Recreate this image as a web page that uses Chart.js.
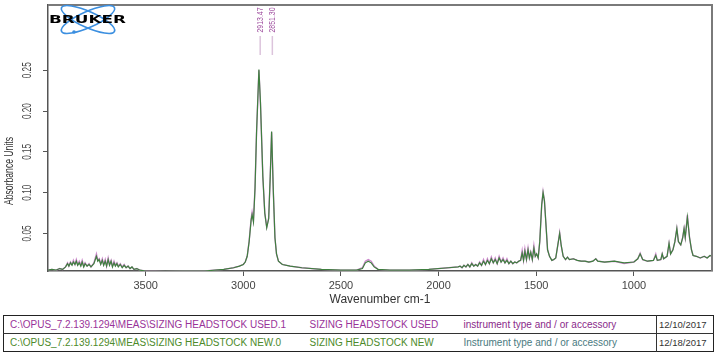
<!DOCTYPE html>
<html>
<head>
<meta charset="utf-8">
<script src="https://cdn.jsdelivr.net/npm/chart.js@4.4.1/dist/chart.umd.min.js"></script>
<style>
  html, body { margin: 0; padding: 0; background: #fff; }
  #wrap { position: relative; width: 723px; height: 356px; }
  #box { position: absolute; left: 0; top: 0; width: 723px; height: 310px; }
  #legend {
    position: absolute; left: 3px; top: 315px; width: 710px; height: 37px;
    border-collapse: collapse; border: 1.5px solid #222;
    font-family: "Liberation Sans", Arial, sans-serif; font-size: 10px;
    table-layout: fixed;
  }
  #legend td { padding: 0 0 0 6px; height: 17px; white-space: nowrap; overflow: hidden; }
  #legend tr + tr td { border-top: 1px solid #333; }
  #legend td.date { border-left: 1px solid #333; padding-left: 2px; color: #333; font-size: 9.5px; }
  tr.used td { color: #993399; }
  tr.used td.acc { color: #8a2a8a; }
  tr.neu td { color: #4d8a2a; }
  tr.neu td.acc { color: #4a7a80; }
</style>
</head>
<body>
<div id="wrap">
  <div id="box"><canvas id="spectrum"></canvas></div>
  <table id="legend">
    <colgroup><col style="width:300px"><col style="width:154px"><col style="width:199px"><col style="width:57px"></colgroup>
    <tr class="used"><td>C:\OPUS_7.2.139.1294\MEAS\SIZING HEADSTOCK USED.1</td><td>SIZING HEADSTOCK USED</td><td class="acc">instrument type and / or accessory</td><td class="date">12/10/2017</td></tr>
    <tr class="neu"><td>C:\OPUS_7.2.139.1294\MEAS\SIZING HEADSTOCK NEW.0</td><td>SIZING HEADSTOCK NEW</td><td class="acc">Instrument type and / or accessory</td><td class="date">12/18/2017</td></tr>
  </table>
</div>
<script>
// wavenumbers (cm-1) shared by both spectra
var wavenumbers = [
  4000, 3980, 3960, 3940, 3925, 3910, 3900, 3893, 3885, 3877, 3870, 3862, 3855, 3848, 3840, 3832,
  3825, 3817, 3810, 3800, 3790, 3780, 3765, 3752, 3745, 3738, 3730, 3722, 3715, 3707, 3700, 3692,
  3685, 3677, 3670, 3662, 3655, 3647, 3640, 3630, 3620, 3610, 3600, 3590, 3580, 3570, 3560, 3545,
  3530, 3500, 3400, 3300, 3200, 3100, 3050, 3020, 3000, 2990, 2980, 2970, 2960, 2955, 2948, 2940,
  2932, 2920, 2912, 2900, 2890, 2880, 2870, 2862, 2855, 2846, 2838, 2830, 2820, 2800, 2760, 2700,
  2600, 2500, 2420, 2390, 2375, 2360, 2345, 2330, 2310, 2250, 2150, 2050, 1950, 1900, 1890, 1880,
  1870, 1860, 1850, 1840, 1830, 1820, 1810, 1800, 1790, 1780, 1770, 1760, 1750, 1740, 1730, 1720,
  1710, 1700, 1690, 1680, 1670, 1660, 1650, 1640, 1630, 1620, 1610, 1600, 1590, 1580, 1572, 1565,
  1558, 1550, 1542, 1535, 1528, 1520, 1512, 1505, 1498, 1490, 1482, 1472, 1465, 1458, 1450, 1442,
  1432, 1420, 1410, 1400, 1390, 1380, 1372, 1362, 1350, 1340, 1330, 1310, 1290, 1270, 1250, 1230,
  1210, 1195, 1185, 1150, 1100, 1050, 1000, 980, 968, 955, 930, 900, 888, 880, 862, 855,
  848, 830, 820, 812, 800, 790, 780, 772, 760, 750, 743, 737, 726, 715, 705, 697,
  680, 660, 640, 625, 610, 600
];

// SIZING HEADSTOCK NEW.0 (green)
var absNew = [
  0.005, 0.006, 0.005, 0.007, 0.006, 0.009, 0.013, 0.010, 0.014, 0.011, 0.015, 0.012, 0.016, 0.011, 0.014, 0.010,
  0.015, 0.009, 0.013, 0.010, 0.012, 0.009, 0.013, 0.022, 0.016, 0.018, 0.012, 0.017, 0.011, 0.016, 0.010, 0.018,
  0.011, 0.016, 0.009, 0.014, 0.010, 0.013, 0.009, 0.012, 0.008, 0.011, 0.008, 0.010, 0.007, 0.009, 0.006, 0.007,
  0.005, 0.004, 0.0035, 0.004, 0.004, 0.006, 0.008, 0.010, 0.012, 0.015, 0.022, 0.040, 0.066, 0.073, 0.064, 0.105,
  0.175, 0.251, 0.210, 0.120, 0.075, 0.057, 0.068, 0.120, 0.175, 0.100, 0.045, 0.025, 0.016, 0.012, 0.010, 0.008,
  0.006, 0.005, 0.005, 0.007, 0.014, 0.016, 0.014, 0.009, 0.006, 0.005, 0.005, 0.006, 0.008, 0.009, 0.010, 0.008,
  0.011, 0.009, 0.012, 0.009, 0.013, 0.010, 0.012, 0.010, 0.014, 0.011, 0.016, 0.012, 0.017, 0.013, 0.019, 0.014,
  0.018, 0.013, 0.020, 0.015, 0.018, 0.014, 0.017, 0.013, 0.016, 0.013, 0.015, 0.014, 0.016, 0.017, 0.026, 0.017,
  0.028, 0.018, 0.030, 0.020, 0.027, 0.018, 0.032, 0.022, 0.025, 0.020, 0.040, 0.085, 0.100, 0.090, 0.060, 0.030,
  0.022, 0.017, 0.018, 0.020, 0.035, 0.050, 0.035, 0.022, 0.018, 0.021, 0.018, 0.019, 0.017, 0.016, 0.016, 0.015,
  0.016, 0.019, 0.016, 0.015, 0.016, 0.014, 0.015, 0.019, 0.025, 0.018, 0.016, 0.017, 0.023, 0.017, 0.018, 0.025,
  0.019, 0.022, 0.038, 0.025, 0.030, 0.040, 0.056, 0.040, 0.036, 0.045, 0.056, 0.045, 0.070, 0.045, 0.030, 0.023,
  0.022, 0.020, 0.022, 0.020, 0.023, 0.022
];

// SIZING HEADSTOCK USED.1 (pink)
var absUsed = [
  0.005, 0.006, 0.005, 0.007, 0.006, 0.009, 0.014, 0.010, 0.015, 0.012, 0.017, 0.012, 0.018, 0.012, 0.016, 0.011,
  0.017, 0.010, 0.014, 0.010, 0.013, 0.009, 0.014, 0.025, 0.017, 0.019, 0.013, 0.019, 0.012, 0.018, 0.010, 0.020,
  0.012, 0.017, 0.010, 0.016, 0.011, 0.014, 0.010, 0.013, 0.009, 0.012, 0.008, 0.010, 0.007, 0.009, 0.006, 0.007,
  0.005, 0.004, 0.0035, 0.004, 0.004, 0.006, 0.008, 0.010, 0.012, 0.015, 0.022, 0.041, 0.068, 0.076, 0.066, 0.106,
  0.175, 0.250, 0.209, 0.120, 0.075, 0.058, 0.069, 0.120, 0.174, 0.100, 0.045, 0.025, 0.016, 0.012, 0.010, 0.008,
  0.006, 0.005, 0.005, 0.008, 0.016, 0.018, 0.016, 0.010, 0.006, 0.005, 0.005, 0.006, 0.008, 0.009, 0.010, 0.008,
  0.011, 0.009, 0.012, 0.009, 0.014, 0.010, 0.012, 0.010, 0.015, 0.011, 0.018, 0.012, 0.019, 0.013, 0.021, 0.014,
  0.020, 0.013, 0.022, 0.015, 0.020, 0.014, 0.019, 0.013, 0.016, 0.013, 0.015, 0.014, 0.016, 0.017, 0.029, 0.017,
  0.031, 0.018, 0.032, 0.020, 0.027, 0.018, 0.035, 0.022, 0.025, 0.020, 0.040, 0.085, 0.101, 0.090, 0.060, 0.030,
  0.022, 0.017, 0.018, 0.020, 0.035, 0.051, 0.035, 0.022, 0.018, 0.021, 0.018, 0.019, 0.017, 0.016, 0.016, 0.015,
  0.016, 0.019, 0.016, 0.015, 0.016, 0.013, 0.015, 0.019, 0.026, 0.018, 0.016, 0.017, 0.025, 0.017, 0.018, 0.025,
  0.019, 0.022, 0.038, 0.025, 0.030, 0.040, 0.056, 0.040, 0.036, 0.045, 0.056, 0.045, 0.073, 0.045, 0.030, 0.023,
  0.022, 0.020, 0.022, 0.020, 0.023, 0.022
];

var xTicks = [3500, 3000, 2500, 2000, 1500, 1000];
var yTicks = [0.05, 0.10, 0.15, 0.20, 0.25];
var peakLabels = [2913.47, 2851.30];

function points(vals) {
  return wavenumbers.map(function (w, i) { return { x: w, y: vals[i] }; });
}

// rotated text squeezed to a given length, like the OPUS export
function vText(ctx, txt, x, y, len) {
  var w = ctx.measureText(txt).width;
  ctx.save();
  ctx.translate(x, y);
  ctx.rotate(-Math.PI / 2);
  ctx.scale(len / w, 1);
  ctx.fillText(txt, 0, 0);
  ctx.restore();
}

// bits OPUS draws that chart.js has no option for
var decor = {
  id: 'decor',
  afterDraw: function (chart) {
    var ctx = chart.ctx, a = chart.chartArea;
    var xs = chart.scales.x, ys = chart.scales.y;
    ctx.save();

    // frame top + right
    ctx.strokeStyle = '#7a7a7a';
    ctx.lineWidth = 2;
    ctx.beginPath();
    ctx.moveTo(a.left, a.top); ctx.lineTo(a.right, a.top); ctx.lineTo(a.right, a.bottom);
    ctx.stroke();

    // rotated y tick labels
    ctx.fillStyle = '#444';
    ctx.font = '13px "Liberation Sans", Arial, sans-serif';
    ctx.textAlign = 'center';
    ctx.textBaseline = 'middle';
    yTicks.forEach(function (v) {
      vText(ctx, v.toFixed(2), 27, ys.getPixelForValue(v), 16);
    });

    // y title
    ctx.fillStyle = '#333';
    ctx.font = '12px "Liberation Sans", Arial, sans-serif';
    vText(ctx, 'Absorbance Units', 10, 171, 68);

    // peak picks
    peakLabels.forEach(function (p) {
      var px = xs.getPixelForValue(p);
      ctx.fillStyle = '#a050a0';
      ctx.font = '9px "Liberation Sans", Arial, sans-serif';
      vText(ctx, p.toFixed(2), px, 20, 25);
      ctx.strokeStyle = '#dcc4dc';
      ctx.lineWidth = 1.5;
      ctx.beginPath();
      ctx.moveTo(px, 36); ctx.lineTo(px, 55);
      ctx.stroke();
    });

    // Bruker logo
    ctx.strokeStyle = '#3b8fe0';
    ctx.lineWidth = 1.6;
    [0.42, -0.42].forEach(function (r) {
      ctx.beginPath();
      ctx.ellipse(88, 19.5, 29, 8, r, 0, Math.PI * 2);
      ctx.stroke();
    });
    ctx.fillStyle = '#3b8fe0';
    ctx.beginPath();
    ctx.arc(74, 32, 1.8, 0, Math.PI * 2);
    ctx.fill();
    ctx.fillStyle = '#000';
    ctx.font = 'bold 11px "DejaVu Sans", sans-serif';
    ctx.textAlign = 'left';
    var w = ctx.measureText('BRUKER').width;
    ctx.save();
    ctx.translate(49, 20);
    ctx.scale(77 / w, 1);
    ctx.fillText('BRUKER', 0, 0);
    ctx.restore();

    ctx.restore();
  }
};

var config = {
  type: 'line',
  data: {
    datasets: [{
      label: 'SIZING HEADSTOCK NEW',
      data: points(absNew),
      borderColor: '#3f7f3f',
      borderWidth: 1.2,
      pointRadius: 0,
      tension: 0,
      fill: false
    }, {
      label: 'SIZING HEADSTOCK USED',
      data: points(absUsed),
      borderColor: '#cc88cc',
      borderWidth: 1.4,
      pointRadius: 0,
      tension: 0,
      fill: false
    }]
  },
  options: {
    responsive: false,
    animation: false,
    layout: { padding: { left: 0, top: 5, right: 11, bottom: 0 } },
    plugins: { legend: { display: false }, tooltip: { enabled: false } },
    scales: {
      x: {
        type: 'linear',
        reverse: true,
        min: 600,
        max: 4000,
        afterBuildTicks: function (s) { s.ticks = xTicks.map(function (v) { return { value: v }; }); },
        afterFit: function (s) { s.height = 39; },
        grid: { display: true, drawOnChartArea: false, drawTicks: true, tickLength: 5, color: '#555', tickWidth: 1 },
        border: { display: true, color: '#555', width: 1.5 },
        ticks: {
          color: '#444', padding: 3, maxRotation: 0,
          font: { family: '"Liberation Sans", Arial, sans-serif', size: 11 },
          callback: function (v) { return String(v); }
        },
        title: {
          display: true, text: 'Wavenumber cm-1', color: '#333',
          font: { family: '"Liberation Sans", Arial, sans-serif', size: 12 },
          padding: { top: 0, bottom: 3 }
        }
      },
      y: {
        min: 0.004,
        max: 0.33,
        afterBuildTicks: function (s) { s.ticks = yTicks.map(function (v) { return { value: v }; }); },
        afterFit: function (s) { s.width = 48; },
        grid: { display: true, drawOnChartArea: false, drawTicks: true, tickLength: 5, color: '#555', tickWidth: 1 },
        border: { display: true, color: '#555', width: 1.5 },
        ticks: { display: false }
      }
    }
  },
  plugins: [decor]
};

var cv = document.getElementById('spectrum');
cv.width = 723;
cv.height = 310;
var chart = new Chart(cv, config);
</script>
</body>
</html>
